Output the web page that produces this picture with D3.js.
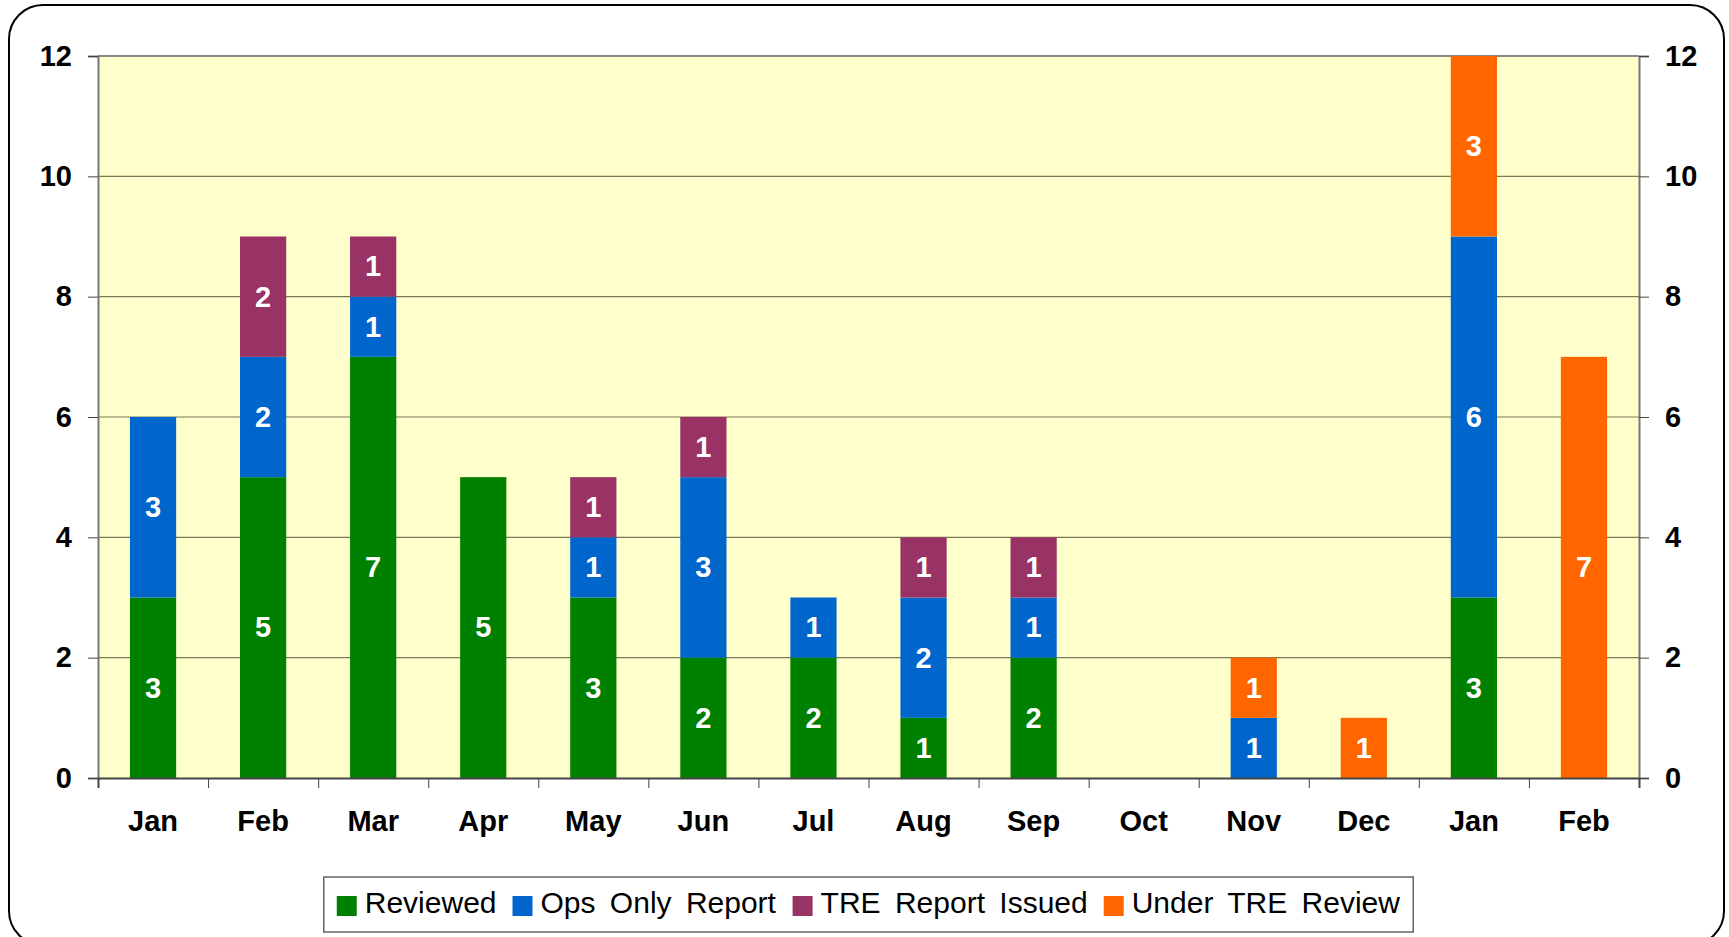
<!DOCTYPE html>
<html>
<head>
<meta charset="utf-8">
<title>Reviews by month</title>
<script src="https://d3js.org/d3.v7.min.js"></script>
<style>
  body { margin: 0; background: #fff; }
  text { font-family: Arial, "Liberation Sans", sans-serif; }
</style>
</head>
<body>
<div id="chart"></div>
<script>
// data
const months = ["Jan", "Feb", "Mar", "Apr", "May", "Jun", "Jul", "Aug", "Sep", "Oct", "Nov", "Dec", "Jan", "Feb"];
const reviewed   = [3, 5, 7, 5, 3, 2, 2, 1, 2, 0, 0, 0, 3, 0];
const opsOnly    = [3, 2, 1, 0, 1, 3, 1, 2, 1, 0, 1, 0, 6, 0];
const treIssued  = [0, 2, 1, 0, 1, 1, 0, 1, 1, 0, 0, 0, 0, 0];
const underTre   = [0, 0, 0, 0, 0, 0, 0, 0, 0, 0, 1, 1, 3, 7];
const seriesNames = ["Reviewed", "Ops Only Report", "TRE Report Issued", "Under TRE Review"];
const yTicks = [0, 2, 4, 6, 8, 10, 12];

const colors = ["#008000", "#0066CC", "#993366", "#FF6600"];

const W = 1729, H = 937;
const plotL = 98, plotR = 1639, plotT = 56, plotB = 778;

const svg = d3.select("#chart").append("svg")
    .attr("width", W).attr("height", H);

// outer rounded frame
svg.append("rect")
    .attr("x", 9).attr("y", 5)
    .attr("width", 1715).attr("height", 940)
    .attr("rx", 34).attr("ry", 34)
    .attr("fill", "#fff").attr("stroke", "#000").attr("stroke-width", 2);

let rows = months.map(function(m, i) {
    return {idx: i, s0: reviewed[i], s1: opsOnly[i], s2: treIssued[i], s3: underTre[i]};
});
let keys = ["s0", "s1", "s2", "s3"];
let stacked = d3.stack().keys(keys)(rows);

let x = d3.scaleBand().domain(d3.range(months.length)).range([plotL, plotR]).padding(0);
let xEdges = d3.scaleLinear().domain([0, months.length]).range([plotL, plotR]);
let y = d3.scaleLinear().domain([0, 12]).range([plotB, plotT]);

// plot background
svg.append("rect")
    .attr("x", plotL).attr("y", plotT)
    .attr("width", plotR - plotL).attr("height", plotB - plotT)
    .attr("fill", "#FFFFCC");

// gridlines
svg.append("g").selectAll("line")
    .data(yTicks.filter(t => t > 0 && t < 12))
    .enter().append("line")
    .attr("x1", plotL).attr("x2", plotR)
    .attr("y1", d => y(d)).attr("y2", d => y(d))
    .attr("stroke", "#7a7a58").attr("stroke-width", 1.2);

// top border of plot
svg.append("line")
    .attr("x1", plotL).attr("x2", plotR)
    .attr("y1", plotT).attr("y2", plotT)
    .attr("stroke", "#888").attr("stroke-width", 2);

let barW = x.bandwidth() * 0.42;

// bars
let layers = svg.append("g").selectAll("g")
    .data(stacked)
    .enter().append("g")
    .attr("fill", (d, i) => colors[i]);

layers.selectAll("rect")
    .data(d => d.filter(s => s[1] - s[0] > 0))
    .enter().append("rect")
    .attr("x", d => x(d.data.idx) + (x.bandwidth() - barW) / 2)
    .attr("y", d => y(d[1]))
    .attr("width", barW)
    .attr("height", d => y(d[0]) - y(d[1]));

// value labels
layers.selectAll("text")
    .data(d => d.filter(s => s[1] - s[0] > 0))
    .enter().append("text")
    .attr("x", d => x(d.data.idx) + x.bandwidth() / 2)
    .attr("y", d => (y(d[0]) + y(d[1])) / 2)
    .attr("dy", "0.34em")
    .attr("text-anchor", "middle")
    .attr("fill", "#fff")
    .attr("font-weight", "bold")
    .attr("font-size", "29px")
    .text(d => d[1] - d[0]);

// axes
let yLeft = svg.append("g")
    .attr("transform", "translate(" + plotL + ",0)")
    .call(d3.axisLeft(y).tickValues(yTicks).tickSize(10).tickPadding(16));
let yRight = svg.append("g")
    .attr("transform", "translate(" + plotR + ",0)")
    .call(d3.axisRight(y).tickValues(yTicks).tickSize(10).tickPadding(16));
[yLeft, yRight].forEach(function(g) {
    g.select(".domain").attr("stroke", "#777").attr("stroke-width", 2);
    g.selectAll(".tick line").attr("stroke", "#444");
    g.selectAll("text")
        .attr("font-size", "29px").attr("font-weight", "bold")
        .attr("fill", "#000").attr("font-family", "Arial, 'Liberation Sans', sans-serif");
});

let xTickG = svg.append("g")
    .attr("transform", "translate(0," + plotB + ")")
    .call(d3.axisBottom(xEdges).tickValues(d3.range(months.length + 1)).tickSize(10).tickFormat(""));
xTickG.select(".domain").attr("stroke", "#444").attr("stroke-width", 2);
xTickG.selectAll(".tick line").attr("stroke", "#444");

let xLab = svg.append("g")
    .attr("transform", "translate(0," + plotB + ")")
    .call(d3.axisBottom(x).tickSize(0).tickPadding(32).tickFormat(i => months[i]));
xLab.select(".domain").remove();
xLab.selectAll("text")
    .attr("font-size", "29px").attr("font-weight", "bold")
    .attr("fill", "#000").attr("font-family", "Arial, 'Liberation Sans', sans-serif");

// legend
let legend = svg.append("g");
let box = legend.append("rect")
    .attr("y", 877).attr("height", 55)
    .attr("fill", "#fff").attr("stroke", "#666").attr("stroke-width", 1.5);
let cx = 0;
let items = [];
seriesNames.forEach(function(name, i) {
    let g = legend.append("g");
    g.append("rect").attr("x", cx).attr("y", 896).attr("width", 20).attr("height", 20)
        .attr("fill", colors[i]);
    let t = g.append("text").attr("x", cx + 28).attr("y", 913)
        .attr("font-size", "30px").attr("word-spacing", "6px")
        .attr("fill", "#000").text(name);
    cx += 28 + t.node().getBBox().width + 16;
    items.push(g);
});
let contentW = cx - 16;
let boxW = contentW + 26;
let boxX = (plotL + plotR) / 2 - boxW / 2;
box.attr("x", boxX).attr("width", boxW);
items.forEach(g => g.attr("transform", "translate(" + (boxX + 13) + ",0)"));
</script>
</body>
</html>
